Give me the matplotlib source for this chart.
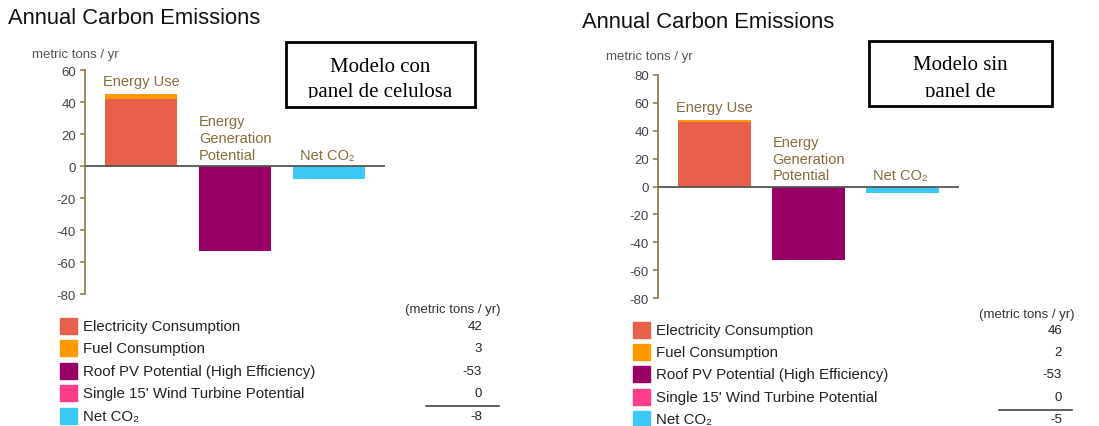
import matplotlib
matplotlib.use("Agg")
import matplotlib.pyplot as plt
from matplotlib.patches import Rectangle

plt.rcParams['font.family'] = ['Liberation Sans', 'DejaVu Sans']
plt.rcParams['axes.unicode_minus'] = False

# data
groups = ["Energy Use", "Energy\nGeneration\nPotential", "Net CO\u2082"]
legend_labels = ["Electricity Consumption", "Fuel Consumption",
                 "Roof PV Potential (High Efficiency)",
                 "Single 15' Wind Turbine Potential", "Net CO\u2082"]
colors = ["#E8604C", "#FF9900", "#990066", "#FF3D8B", "#3CC8F5"]

left_values = [42, 3, -53, 0, -8]
right_values = [46, 2, -53, 0, -5]
left_ticks = [60, 40, 20, 0, -20, -40, -60, -80]
right_ticks = [80, 60, 40, 20, 0, -20, -40, -60, -80]
left_box = ["Modelo con", "panel de celulosa"]
right_box = ["Modelo sin", "panel de"]

W, H = 1099, 427
LABEL_BROWN = "#8B6B3D"
AXIS_BROWN = "#9A7B50"

fig = plt.figure(figsize=(W / 100, H / 100), dpi=100)
ov = fig.add_axes([0, 0, 1, 1])
ov.set_xlim(0, W)
ov.set_ylim(H, 0)
ov.axis('off')


def px_axes(x0, y0, x1, y1):
    # axes from pixel box (top-left origin)
    return fig.add_axes([x0 / W, 1 - y1 / H, (x1 - x0) / W, (y1 - y0) / H])


def draw_panel(values, ticks, box_lines, lay):
    elec, fuel, pv, wind, net = values
    # title + unit
    ov.text(lay['title_x'], lay['title_y'], "Annual Carbon Emissions",
            fontsize=15.8, color='#111', va='center', ha='left')
    ov.text(lay['unit_x'], lay['unit_y'], "metric tons / yr",
            fontsize=9.5, color='#555', va='center', ha='left')

    ax = px_axes(lay['ax_x0'], lay['ax_y0'], lay['ax_x1'], lay['ax_y1'])
    ax.patch.set_visible(False)
    x = [0, 1, 2]
    w = 0.77
    ax.bar(x[0], elec, w, color=colors[0], zorder=2)
    ax.bar(x[0], fuel, w, bottom=elec, color=colors[1], zorder=2)
    ax.bar(x[1], pv, w, color=colors[2], zorder=2)
    ax.bar(x[1], wind, w, bottom=pv, color=colors[3], zorder=2)
    ax.bar(x[2], net, w, color=colors[4], zorder=2)
    ax.axhline(0, color='#555', lw=1.3, zorder=3)
    ax.set_xlim(-0.6, 2.6)
    ax.set_ylim(min(ticks), max(ticks))
    ax.set_yticks(ticks)
    ax.set_xticks([])
    for s in ['top', 'right', 'bottom']:
        ax.spines[s].set_visible(False)
    ax.spines['left'].set_color(AXIS_BROWN)
    ax.spines['left'].set_linewidth(1.3)
    ax.tick_params(axis='y', length=3.5, width=1.2, color=AXIS_BROWN,
                   labelcolor='#444', labelsize=9.5, pad=3)

    # group labels
    ax.annotate(groups[0], (x[0], elec + fuel), xytext=(0, 4),
                textcoords='offset points', ha='center', va='bottom',
                fontsize=10.5, color=LABEL_BROWN)
    ax.annotate(groups[1], (x[1] - w / 2, 0), xytext=(0, 3),
                textcoords='offset points', ha='left', va='bottom',
                fontsize=10.5, color=LABEL_BROWN, linespacing=1.25)
    ax.annotate(groups[2], (x[2] - w / 2, 0), xytext=(5, 3),
                textcoords='offset points', ha='left', va='bottom',
                fontsize=10.5, color=LABEL_BROWN)

    # framed note, second line cut off at the bottom
    bx0, by0, bx1, by1 = lay['box']
    ov.add_patch(Rectangle((bx0, by0), bx1 - bx0, by1 - by0, fill=False,
                           ec='black', lw=2, zorder=5))
    cax = px_axes(bx0 + 2, by0 + 2, bx1 - 2, lay['box_clip'])
    cax.axis('off')
    cax.set_xlim(bx0 + 2, bx1 - 2)
    cax.set_ylim(lay['box_clip'], by0 + 2)
    cx = (bx0 + bx1) / 2
    for line, ty in zip(box_lines, lay['box_text_y']):
        cax.text(cx, ty, line, ha='center', va='center', fontsize=15,
                 family='Liberation Serif', color='black', clip_on=True)

    # legend table
    ov.text(lay['unit2_x'], lay['unit2_y'], "(metric tons / yr)",
            fontsize=9.5, color='#333', va='center', ha='left')
    for i, (lab, col, val) in enumerate(zip(legend_labels, colors, values)):
        y = lay['row_y0'] + i * lay['row_dy']
        ov.add_patch(Rectangle((lay['sq_x'], y - 8), 17, 16, color=col))
        ov.text(lay['sq_x'] + 23, y, lab, fontsize=10.8, color='#222',
                va='center', ha='left')
        ov.text(lay['val_x'], y, str(val), fontsize=9.5, color='#222',
                va='center', ha='right')
    ov.plot(lay['line_x'], [lay['line_y'], lay['line_y']], color='#333', lw=1.1)


draw_panel(left_values, left_ticks, left_box, dict(
    title_x=8, title_y=19, unit_x=32, unit_y=55,
    ax_x0=85, ax_y0=71, ax_x1=385, ax_y1=295,
    box=(286, 43, 475, 108), box_clip=99, box_text_y=(67, 93),
    unit2_x=405, unit2_y=310, row_y0=327, row_dy=22.4, sq_x=60,
    val_x=482, line_x=[426, 499], line_y=407))

draw_panel(right_values, right_ticks, right_box, dict(
    title_x=582, title_y=23, unit_x=606, unit_y=57,
    ax_x0=658, ax_y0=76, ax_x1=959, ax_y1=299,
    box=(869, 42, 1052, 107), box_clip=98, box_text_y=(65, 92),
    unit2_x=979, unit2_y=315, row_y0=331, row_dy=22.2, sq_x=633,
    val_x=1062, line_x=[999, 1072], line_y=411))

fig.savefig("out.png", dpi=100)
